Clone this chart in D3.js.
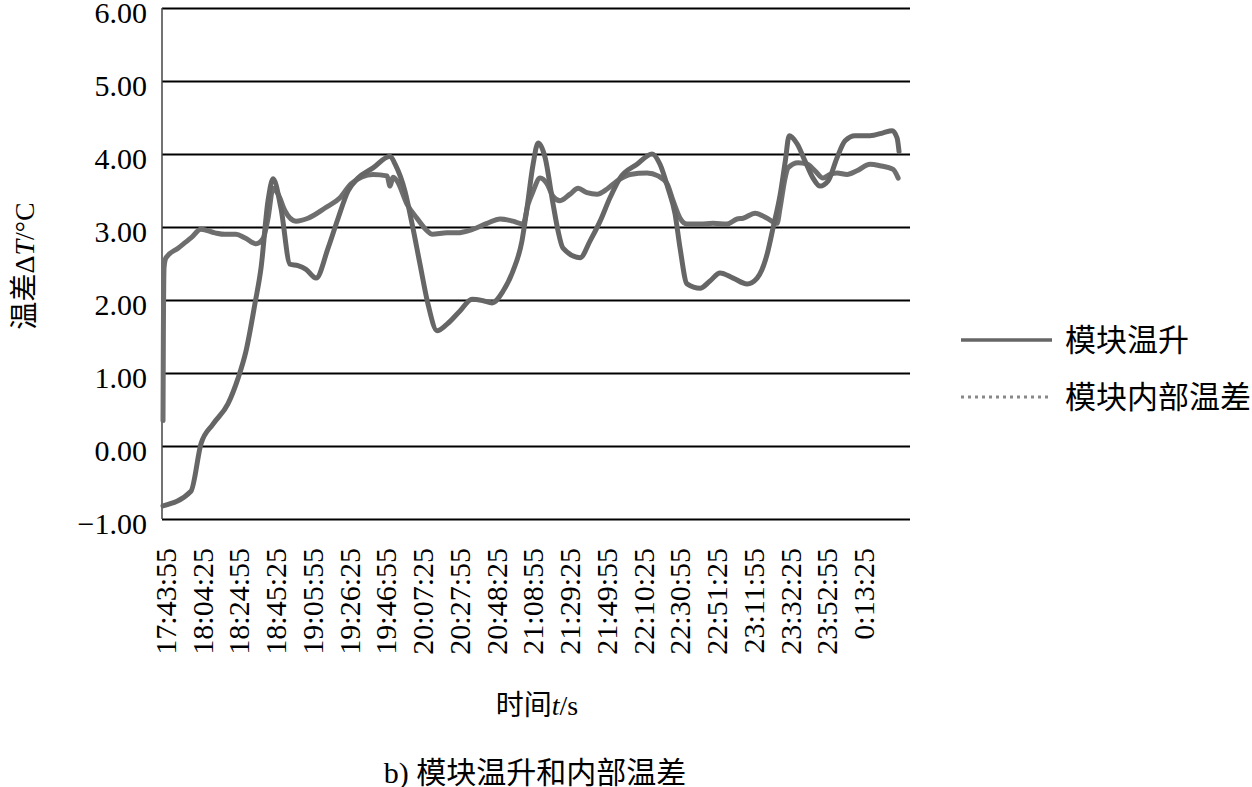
<!DOCTYPE html>
<html><head><meta charset="utf-8">
<script src="https://cdn.jsdelivr.net/npm/d3@7/dist/d3.min.js"></script>
<style>
body{margin:0;background:#fff;}
text{font-family:"Liberation Serif","Times New Roman","Noto Sans CJK SC",serif;fill:#000;}
.cjk{font-family:"Liberation Serif","Noto Sans CJK SC",serif;}
</style></head><body>
<svg id="c" width="1252" height="787"></svg>
<script>
// ---- data ----
const timeLabels = ["17:43:55","18:04:25","18:24:55","18:45:25","19:05:55","19:26:25","19:46:55","20:07:25","20:27:55","20:48:25","21:08:55","21:29:25","21:49:55","22:10:25","22:30:55","22:51:25","23:11:55","23:32:25","23:52:55","0:13:25"];
const labelStepMin = 20.5; // minutes between labels
const yTicks = [-1,0,1,2,3,4,5,6];
const seriesNames = ["模块温升","模块内部温差"];
// minutes since 17:43:55 , value in °C
const riseT = [0,15.6,21.2,27.9,36.3,41.9,46.3,51.3,54.7,58.6,61.4,65.8,70.9,75.3,79.8,85.4,92.1,97.7,103.2,108.8,117.2,126.7,129.5,135.0,139.0,143.4,147.9,152.9,158.5,165.7,172.4,178.6,183.6,189.7,195.3,200.3,203.1,206.5,209.3,213.2,217.6,220.4,223.2,232.7,238.3,243.9,249.4,255.0,264.5,272.9,277.3,281.8,285.7,288.5,292.4,299.7,305.2,310.8,318.1,325.9,331.5,337.1,340.4,344.4,347.2,349.4,353.8,358.3,362.7,366.6,371.1,376.1,380.6,386.2,394.5,401.8,406.8,409.6,410.7];
const riseV = [-0.82,-0.62,0.03,0.30,0.58,0.93,1.30,1.95,2.44,3.36,3.66,3.26,2.49,2.47,2.42,2.30,2.71,3.12,3.49,3.67,3.81,3.97,3.86,3.49,3.04,2.49,1.94,1.58,1.67,1.85,2.01,1.99,1.96,2.12,2.40,2.81,3.26,3.86,4.15,3.95,3.32,2.95,2.71,2.58,2.81,3.08,3.40,3.67,3.86,4.00,3.86,3.53,3.18,2.71,2.22,2.16,2.26,2.37,2.30,2.22,2.30,2.63,2.99,3.45,3.90,4.25,4.14,3.90,3.67,3.56,3.63,3.95,4.18,4.25,4.25,4.29,4.32,4.22,4.03];
const diffT = [0,0.2,0.6,1.7,8.4,15.6,21.2,29.0,34.6,40.7,45.8,51.9,55.8,58.6,61.4,64.2,68.1,74.2,80.9,90.4,98.8,104.9,117.2,125.0,126.7,128.3,130.6,136.2,141.7,147.3,150.1,158.5,164.1,173.0,180.8,188.1,195.3,200.9,203.7,206.5,210.4,214.3,217.6,221.5,227.1,231.6,236.6,242.2,247.8,253.3,260.6,270.1,276.2,281.3,284.6,288.5,292.4,299.7,306.9,314.7,320.3,323.7,330.4,337.1,342.6,344.3,347.1,348.8,354.4,359.4,363.8,368.3,372.2,376.1,381.7,387.2,394.5,400.1,407.4,410.2];
const diffV = [0.35,1.5,2.45,2.58,2.71,2.85,2.97,2.92,2.90,2.90,2.85,2.77,2.84,3.12,3.53,3.45,3.22,3.08,3.12,3.26,3.40,3.59,3.72,3.70,3.56,3.68,3.63,3.31,3.12,2.95,2.90,2.92,2.92,2.97,3.05,3.11,3.08,3.04,3.31,3.49,3.67,3.59,3.42,3.36,3.45,3.53,3.47,3.45,3.52,3.63,3.72,3.74,3.70,3.59,3.36,3.12,3.04,3.04,3.05,3.04,3.11,3.12,3.19,3.12,3.05,3.26,3.67,3.81,3.88,3.86,3.77,3.67,3.72,3.74,3.72,3.77,3.86,3.84,3.79,3.67];

const svg = d3.select("#c");
const L = 162, R = 910, T = 8, B = 519;
const x = d3.scaleLinear().domain([-0.56, 416.8]).range([L, R]);
const y = d3.scaleLinear().domain([-1, 6]).range([B, T]);

// gridlines
const grid = svg.append("g").attr("transform",`translate(${L},0)`)
  .call(d3.axisLeft(y).tickValues(yTicks).tickSize(-(R-L)).tickFormat(""));
grid.select(".domain").remove();
grid.selectAll("line").attr("stroke","#000").attr("stroke-width",2);

// left axis line
svg.append("line").attr("x1",L).attr("x2",L).attr("y1",T).attr("y2",B)
  .attr("stroke","#444").attr("stroke-width",1.5);

// y labels
const ya = svg.append("g").attr("transform",`translate(${L-15},0)`)
  .call(d3.axisLeft(y).tickValues(yTicks).tickSize(0).tickPadding(0)
    .tickFormat(d => (d<0?"\u22121.00":d3.format(".2f")(d))));
ya.select(".domain").remove();
ya.selectAll("text").attr("font-size",30).attr("font-family","Liberation Serif").attr("fill","#000")
  .attr("dy",null).attr("dominant-baseline","central").attr("y",4);

// x labels
const xa = svg.append("g").attr("transform",`translate(0,${B})`)
  .call(d3.axisBottom(x).tickValues(timeLabels.map((_,i)=>i*labelStepMin)).tickSize(0)
    .tickFormat((d,i)=>timeLabels[i]));
xa.select(".domain").remove();
xa.selectAll("text").attr("font-size",30).attr("font-family","Liberation Serif").attr("fill","#000")
  .attr("text-anchor","end").attr("dy",null).attr("y",0)
  .attr("transform",function(){ return "translate(2,29) rotate(-90)"; })
  .attr("dominant-baseline","central").attr("x",0);

// lines
const line = d3.line().x(d=>x(d[0])).y(d=>y(d[1])).curve(d3.curveMonotoneX);
const rise = riseT.map((t,i)=>[t,riseV[i]]);
const diff = diffT.map((t,i)=>[t,diffV[i]]);
svg.append("path").datum(diff).attr("d",line).attr("fill","none")
  .attr("stroke","#6e6e6e").attr("stroke-width",5).attr("stroke-linejoin","round").attr("stroke-linecap","round");
svg.append("path").datum(rise).attr("d",line).attr("fill","none")
  .attr("stroke","#666").attr("stroke-width",5).attr("stroke-linejoin","round").attr("stroke-linecap","round");

// axis titles
const yt = svg.append("text").attr("transform","translate(24,266) rotate(-90)")
  .attr("text-anchor","middle").attr("dominant-baseline","central").attr("font-size",28).attr("class","cjk");
yt.append("tspan").text("温差\u0394");
yt.append("tspan").attr("font-style","italic").text("T");
yt.append("tspan").text("/°C");

const xt = svg.append("text").attr("x",537).attr("y",705).attr("text-anchor","middle")
  .attr("dominant-baseline","central").attr("font-size",28).attr("class","cjk");
xt.append("tspan").text("时间");
xt.append("tspan").attr("font-style","italic").text("t");
xt.append("tspan").text("/s");

svg.append("text").attr("x",535).attr("y",772).attr("text-anchor","middle")
  .attr("dominant-baseline","central").attr("font-size",30).attr("class","cjk")
  .text("b) 模块温升和内部温差");

// legend
const leg = svg.append("g");
const ly = [340, 397];
leg.append("line").attr("x1",961).attr("x2",1052).attr("y1",ly[0]).attr("y2",ly[0])
  .attr("stroke","#666").attr("stroke-width",3.5);
leg.append("line").attr("x1",961).attr("x2",1052).attr("y1",ly[1]).attr("y2",ly[1])
  .attr("stroke","#888").attr("stroke-width",3).attr("stroke-dasharray","3,4");
seriesNames.forEach((n,i)=>{
  leg.append("text").attr("x",1065).attr("y",ly[i]).attr("dominant-baseline","central")
    .attr("font-size",31).attr("class","cjk").text(n);
});
</script></body></html>
